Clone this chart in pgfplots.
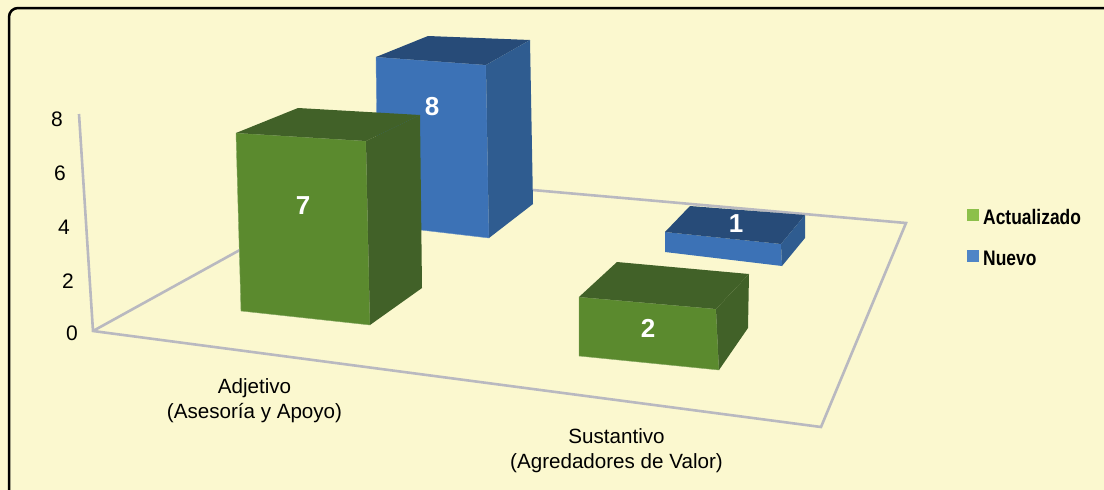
\documentclass[border=0pt]{standalone}
\usepackage{fontspec}
\setmainfont{Liberation Sans}
\newfontfamily\narrowbold[FakeStretch=0.83]{Liberation Sans Bold}
\usepackage{pgfplots}
\pgfplotsset{compat=1.18}

\definecolor{paper}{HTML}{FBF8CF}
\definecolor{gridgray}{HTML}{B9B9C0}
\definecolor{greenfront}{HTML}{5B8A2E}
\definecolor{greendark}{HTML}{416128}
\definecolor{bluefront}{HTML}{3C72B6}
\definecolor{bluetop}{HTML}{274B78}
\definecolor{blueside}{HTML}{2F5C90}
\definecolor{legendgreen}{HTML}{8CC04A}
\definecolor{legendblue}{HTML}{4F85C6}

\begin{document}
\begin{tikzpicture}
\begin{axis}[
    width=1104pt, height=490pt, scale only axis,
    xmin=0, xmax=1104, ymin=0, ymax=490,
    y dir=reverse,
    axis lines=none,
    axis background/.style={fill=paper},
    clip=true,
]
% frame
\addplot[black, line width=2.5pt, rounded corners=9pt] coordinates {(1104,8)(9,8)(9,490)};

% floor and value axis
\addplot[gridgray, line width=2.6pt] coordinates {(79,114)(93,331)(821,427)(906,223)(374,176)(93,331)};

% Nuevo = 8
\addplot[fill=bluefront, draw=bluefront!75!white, line width=0.4pt] coordinates {(376,57)(486,65)(489,238)(378,225)} --cycle;
\addplot[fill=bluetop, draw=none] coordinates {(376,57)(428,36)(530,40)(486,65)} --cycle;
\addplot[fill=blueside, draw=none] coordinates {(486,65)(530,40)(533,204)(489,238)} --cycle;

% Nuevo = 1
\addplot[fill=bluefront, draw=none] coordinates {(665,232)(781,244)(782,266)(665,252)} --cycle;
\addplot[fill=bluetop, draw=none] coordinates {(665,232)(690,206)(805,215)(781,244)} --cycle;
\addplot[fill=blueside, draw=none] coordinates {(781,244)(805,215)(805,238)(782,266)} --cycle;

% Actualizado = 7
\addplot[fill=greenfront, draw=greenfront!75!white, line width=0.4pt] coordinates {(236,133)(366,141)(370,325)(241,311)} --cycle;
\addplot[fill=greendark, draw=none] coordinates {(236,133)(298,108)(420,115)(366,141)} --cycle;
\addplot[fill=greendark, draw=none] coordinates {(366,141)(420,115)(422,288)(370,325)} --cycle;

% Actualizado = 2
\addplot[fill=greenfront, draw=greenfront!75!white, line width=0.4pt] coordinates {(579,297)(716,309)(719,370)(579,356)} --cycle;
\addplot[fill=greendark, draw=none] coordinates {(579,297)(617,262)(749,274)(716,309)} --cycle;
\addplot[fill=greendark, draw=none] coordinates {(716,309)(749,274)(748,328)(719,370)} --cycle;

% value labels
\addplot[
    draw=none, mark=none,
    nodes near coords, point meta=explicit symbolic,
    every node near coord/.style={anchor=center, text=white, font=\fontsize{26}{26}\selectfont\bfseries},
] coordinates {(303,206)[7] (432,107)[8] (648,328)[2] (736,224)[1]};

% value axis numbers
\addplot[
    draw=none, mark=none,
    nodes near coords, point meta=explicit symbolic,
    every node near coord/.style={anchor=center, text=black, font=\fontsize{21}{21}\selectfont},
] coordinates {(57,119)[8] (60,173.5)[6] (64,227.5)[4] (68,281.5)[2] (72,333.5)[0]};

% category names
\node[align=center, font=\fontsize{20.6}{25}\selectfont] at (axis cs:254.5,401) {Adjetivo\\(Asesoría y Apoyo)};
\node[align=center, font=\fontsize{20.6}{25}\selectfont] at (axis cs:616.5,451) {Sustantivo\\(Agredadores de Valor)};

% legend
\addplot[fill=legendgreen, draw=none] coordinates {(967,209)(979,209)(979,221)(967,221)} --cycle;
\addplot[fill=legendblue, draw=none] coordinates {(967,250)(979,250)(979,262)(967,262)} --cycle;
\node[anchor=west, inner sep=0pt, font=\fontsize{21}{21}\narrowbold] at (axis cs:983,217) {Actualizado};
\node[anchor=west, inner sep=0pt, font=\fontsize{21}{21}\narrowbold] at (axis cs:983,258) {Nuevo};
\end{axis}
\end{tikzpicture}
\end{document}
